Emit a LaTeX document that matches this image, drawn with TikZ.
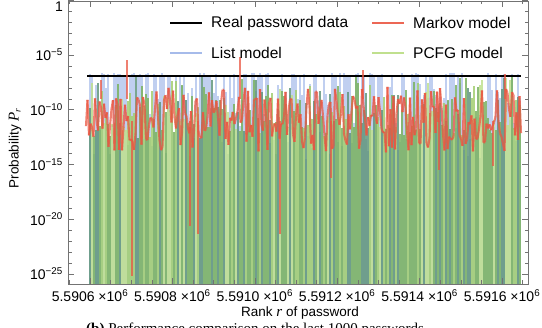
\documentclass[tikz,border=0pt]{standalone}
\usepackage{fontspec}
\setmainfont{Liberation Sans}
\newfontfamily\serif{Liberation Serif}
\usepackage{xcolor}
\usepackage{tikz}
\usetikzlibrary{positioning}

\definecolor{markovc}{RGB}{234,86,66}
\definecolor{listc}{RGB}{150,175,230}
\definecolor{pcfga}{RGB}{162,206,112}
\definecolor{pcfgb}{RGB}{122,178,96}
\definecolor{pcfgc}{RGB}{98,150,124}
\definecolor{pcfgd}{RGB}{192,224,142}
\definecolor{framec}{RGB}{115,115,115}
\pgfmathdeclarerandomlist{pcfgshades}{{pcfga}{pcfgb}{pcfgc}{pcfgd}{pcfgb}}

\begin{document}
\begin{tikzpicture}[x=1pt, y=-1pt,
    declare function={ly(\d)=0.25+10.95*\d;},
    frame/.style={draw=framec, line width=0.7pt},
    tickmark/.style={draw=framec, line width=0.5pt},
    ticklab/.style={font=\fontsize{14}{16}\selectfont, inner sep=0pt},
    leglab/.style={font=\fontsize{15.5}{18}\selectfont, anchor=west, inner sep=0pt},
    axislab/.style={font=\fontsize{13.5}{16}\selectfont, inner sep=0pt},
    realline/.style={black, line width=2.4pt},
    markovline/.style={markovc, line width=2.1pt, opacity=0.75, line cap=butt},
    legline/.style={line width=2.6pt}
]
\useasboundingbox (0,0) rectangle (542,328);

% filled series (List and PCFG)
\pgfmathsetseed{2718}
\foreach \j in {0,...,215} {
  \pgfmathsetmacro{\xa}{89+2*\j}
  \pgfmathsetmacro{\hb}{rnd<0.4 ? 6.6+0.45*rnd : 7.5+7*rnd}
  \pgfmathsetmacro{\hg}{7.0+5.6*rnd}
  \pgfmathrandomitem{\shade}{pcfgshades}
  \fill[listc, fill opacity=0.6] (\xa,284) rectangle ({\xa+2},{ly(\hb)});
  \fill[\shade, fill opacity=0.85] (\xa,284) rectangle ({\xa+2},{ly(\hg)});
}

% real password data
\draw[realline] (87,76) -- (521,76);

% Markov model
\gdef\prevr{11.5}
\foreach \i in {1,...,290} {
  \pgfmathsetmacro{\newr}{7.9+6*rnd}
  \draw[markovline] ({86+1.5*(\i-1)},{ly(\prevr)}) -- ({86+1.5*\i},{ly(\newr)});
  \global\let\prevr\newr
}
\foreach \xp/\yb in {132/276, 190/226, 198/234, 280/234, 331/178, 439/170, 493/166} {
  \draw[markovline] (\xp,{ly(11)}) -- (\xp,\yb);
}
\foreach \xp/\yt in {127/60, 240/57, 363/70, 101/80, 505/74} {
  \draw[markovline] (\xp,{ly(9)}) -- (\xp,\yt);
}

% frame and ticks
\draw[frame] (68,1) rectangle (528,284);
\foreach \d in {0,...,25} {
  \pgfmathsetmacro{\tl}{mod(\d,5)==0 ? 6 : 3.5}
  \draw[tickmark] (68,{ly(\d)}) -- ++(\tl,0);
  \draw[tickmark] (528,{ly(\d)}) -- ++(-\tl,0);
}
\foreach \k in {-1,...,21} {
  \pgfmathsetmacro{\tl}{mod(\k,4)==0 ? 6 : 3.5}
  \draw[tickmark] ({90+20.6*\k},284) -- ++(0,-\tl);
  \draw[tickmark] ({90+20.6*\k},1) -- ++(0,\tl);
}

% tick labels
\foreach \v [count=\n from 0] in {5.5906,5.5908,5.5910,5.5912,5.5914,5.5916}
  \node[ticklab] (xlab\n) at ({90+82.4*\n},296) {\v\ ×10\textsuperscript{6}};
\node[ticklab, anchor=east] (ylab0) at (63,7) {1};
\foreach \d in {5,10,15,20,25}
  \node[ticklab, anchor=east] (ylab\d) at (63,{ly(\d)}) {10\textsuperscript{−\d}};

% axis labels
\node[axislab, rotate=90] (ylabel) at (15,148) {Probability {\serif\itshape\fontsize{15}{16}\selectfont P}\textsubscript{\serif\itshape r}};
\node[axislab] (xlabel) at (300,313) {Rank {\serif\itshape\fontsize{15}{16}\selectfont r} of password};

% legend
\node[leglab] (lgreal) at (211,23) {Real password data};
\node[leglab] (lgmarkov) at (413,23) {Markov model};
\node[leglab] (lglist) at (211,53) {List model};
\node[leglab] (lgpcfg) at (413,53) {PCFG model};
\draw[legline, black] ([xshift=-41pt]lgreal.west) -- ([xshift=-9pt]lgreal.west);
\draw[legline, markovc!90] ([xshift=-41pt]lgmarkov.west) -- ([xshift=-9pt]lgmarkov.west);
\draw[legline, listc!85] ([xshift=-41pt]lglist.west) -- ([xshift=-9pt]lglist.west);
\draw[legline, pcfgd] ([xshift=-41pt]lgpcfg.west) -- ([xshift=-9pt]lgpcfg.west);

% caption, cut by the page edge
\node[font=\fontsize{15}{18}\selectfont\serif, anchor=base west, inner sep=0pt] (caption) at (86,334) {\textbf{(b)} Performance comparison on the last 1000 passwords};
\end{tikzpicture}
\end{document}
